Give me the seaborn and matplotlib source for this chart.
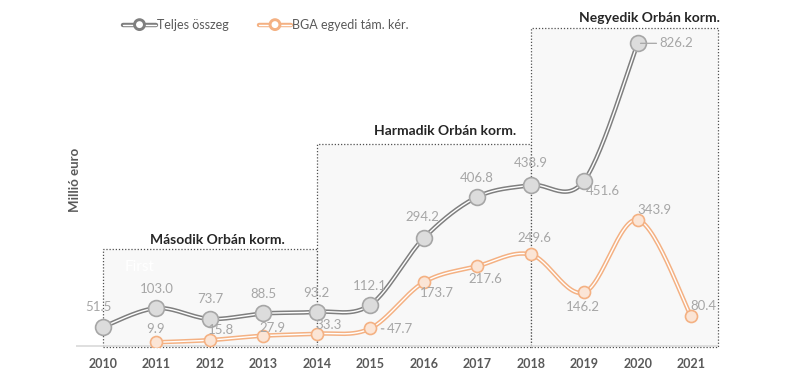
import numpy as np
import pandas as pd
import matplotlib
matplotlib.use('Agg')
import matplotlib.pyplot as plt
import matplotlib.patheffects as pe
from matplotlib.lines import Line2D
from matplotlib.patches import Rectangle
import seaborn as sns

# Data
years = [2010, 2011, 2012, 2013, 2014, 2015, 2016, 2017, 2018, 2019, 2020, 2021]
teljes = [51.5, 103.0, 73.7, 88.5, 93.2, 112.1, 294.2, 406.8, 438.9, 451.6, 826.2]
bga_years = [2011, 2012, 2013, 2014, 2015, 2016, 2017, 2018, 2019, 2020, 2021]
bga = [9.9, 15.8, 27.9, 33.3, 47.7, 173.7, 217.6, 249.6, 146.2, 343.9, 80.4]
teljes_years = years[:len(teljes)]

# government periods: (label, start, end, box top)
periods = [("Második Orbán korm.", 2010, 2014, 264),
           ("Harmadik Orbán korm.", 2014, 2018, 551),
           ("Negyedik Orbán korm.", 2018, 2021.5, 868)]
# title anchors (x, dy above box top, alignment)
title_pos = [(2012.15, 25, 'center'), (2017.72, 35, 'right'), (2021.53, 28, 'right')]

# label offsets in pixels (dx, dy) for each point
teljes_off = [(-4, 20), (1, 19), (1, 20), (0, 19), (0, 19), (0, 19),
              (-1, 21), (0, 19), (0, 22), (19, -10), (22, 0)]
bga_off = [(-1, 13), (11, 10), (9, 8), (12, 9), (30, -1), (13, -11),
           (8, -13), (4, 16), (-1, -15), (17, 10), (12, 10)]

GRAY_LINE = '#7f7f7f'
ORANGE_LINE = '#f4b183'
LABEL = '#a6a6a6'
TEXT = '#595959'


def smooth(xs, ys, n=30):
    # Excel-like smoothed line (cardinal bezier through the points)
    x = np.array(xs, float)
    y = np.array(ys, float)
    px = np.concatenate([[x[0]], x, [x[-1]]])
    py = np.concatenate([[y[0]], y, [y[-1]]])
    out_x, out_y = [], []
    t = np.linspace(0, 1, n)
    for i in range(1, len(px) - 2):
        p0 = np.array([px[i], py[i]])
        p3 = np.array([px[i + 1], py[i + 1]])
        p1 = p0 + (p3 - np.array([px[i - 1], py[i - 1]])) / 6
        p2 = p3 - (np.array([px[i + 2], py[i + 2]]) - p0) / 6
        b = ((1 - t) ** 3)[:, None] * p0 + (3 * (1 - t) ** 2 * t)[:, None] * p1 \
            + (3 * (1 - t) * t ** 2)[:, None] * p2 + (t ** 3)[:, None] * p3
        out_x.extend(b[:, 0])
        out_y.extend(b[:, 1])
    return pd.DataFrame({'x': out_x, 'y': out_y})


sns.set_style('white')
plt.rcParams['font.family'] = ['Lato', 'DejaVu Sans']

fig = plt.figure(figsize=(8, 3.91), dpi=100)
ax = fig.add_axes([76 / 800, 1 - 347 / 391, 642 / 800, 319 / 391])
ax.set_xlim(2009.5, 2021.5)
ax.set_ylim(-3, 868)

# period boxes
for (name, x0, x1, top), (tx, tdy, ha) in zip(periods, title_pos):
    ax.add_patch(Rectangle((x0, -3), x1 - x0, top + 3, facecolor='#f8f8f8',
                           edgecolor='#505050', linestyle=(0, (1, 1.5)),
                           linewidth=0.9, zorder=1, clip_on=False))
    ax.text(tx, top + tdy, name, ha=ha, va='center', fontsize=10,
            fontweight='bold', color='#262626', clip_on=False)
ax.text(2010.4, 215, 'First', color='white', fontsize=11, ha='left', va='center')

ax.axhline(0, color='#d9d9d9', linewidth=1.2, zorder=1.5)

# smoothed lines
gray_fx = [pe.Stroke(linewidth=3.2, foreground=GRAY_LINE), pe.Normal()]
orange_fx = [pe.Stroke(linewidth=3.2, foreground=ORANGE_LINE), pe.Normal()]
sns.lineplot(data=smooth(teljes_years, teljes), x='x', y='y', sort=False, ax=ax,
             color='white', linewidth=1.0, path_effects=gray_fx, zorder=3)
sns.lineplot(data=smooth(bga_years, bga), x='x', y='y', sort=False, ax=ax,
             color='white', linewidth=1.0, path_effects=orange_fx, zorder=3)

# markers
sns.scatterplot(x=teljes_years, y=teljes, ax=ax, s=130, color='#dcdcdc',
                edgecolor='#a6a6a6', linewidth=1.2, zorder=4)
sns.scatterplot(x=bga_years, y=bga, ax=ax, s=75, color='#fbe5d6',
                edgecolor=ORANGE_LINE, linewidth=1.2, zorder=4)

# data labels
for xv, yv, (dx, dy) in zip(teljes_years, teljes, teljes_off):
    kw = {}
    if xv == 2020:
        kw = dict(arrowprops=dict(arrowstyle='-', color=LABEL, lw=0.9,
                                  shrinkA=0, shrinkB=2))
    ax.annotate(f'{yv:.1f}', (xv, yv), xytext=(dx * 0.72, dy * 0.72),
                textcoords='offset points', ha='left' if xv == 2020 else 'center',
                va='center', fontsize=9.5, color=LABEL, zorder=5, **kw)
for xv, yv, (dx, dy) in zip(bga_years, bga, bga_off):
    kw = {}
    if xv == 2015:
        kw = dict(arrowprops=dict(arrowstyle='-', color=LABEL, lw=0.9,
                                  shrinkA=0, shrinkB=8))
    ax.annotate(f'{yv:.1f}', (xv, yv), xytext=(dx * 0.72, dy * 0.72),
                textcoords='offset points', ha='center', va='center',
                fontsize=9.5, color=LABEL, zorder=5, **kw)

# axes styling
ax.set_xticks(years)
ax.set_xticklabels([str(y) for y in years], fontweight='bold', color=TEXT,
                   fontsize=9)
ax.tick_params(axis='x', length=0, pad=8)
ax.set_yticks([])
ax.set_xlabel('')
ax.set_ylabel('')
for s in ax.spines.values():
    s.set_visible(False)
ax.patch.set_alpha(0)
fig.text(75 / 800, 1 - 180 / 391, 'Millió euro', rotation=90, ha='center',
         va='center', fontsize=9.5, fontweight='bold', color=TEXT)

# legend
handles = [
    Line2D([], [], color='white', linewidth=1.0, marker='o', markersize=6,
           markerfacecolor='white', markeredgecolor=GRAY_LINE,
           path_effects=gray_fx),
    Line2D([], [], color='white', linewidth=1.0, marker='o', markersize=6,
           markerfacecolor='white', markeredgecolor=ORANGE_LINE,
           path_effects=orange_fx),
]
fig.legend(handles, ['Teljes összeg', 'BGA egyedi tám. kér.'],
           loc='center left', bbox_to_anchor=(112 / 800, 1 - 25 / 391),
           ncol=2, frameon=False, fontsize=9, handlelength=2.6,
           handletextpad=0.1, columnspacing=2.4, labelcolor=TEXT)

fig.savefig('out.png', dpi=100)
